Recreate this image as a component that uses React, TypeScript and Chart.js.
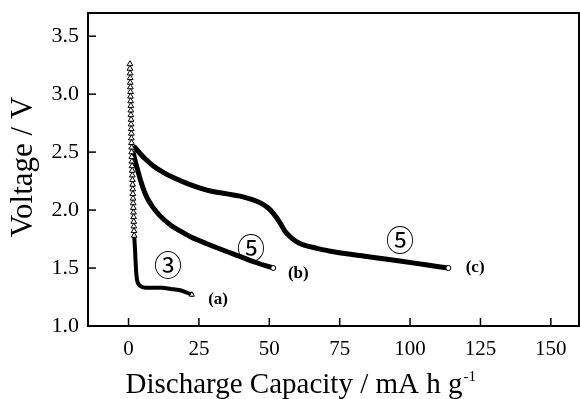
import { useEffect, useRef } from "react";
import { Chart, registerables } from "chart.js";

Chart.register(...registerables);

// ---- data ----
const xTicks = [0, 25, 50, 75, 100, 125, 150];
const yTicks = [1.0, 1.5, 2.0, 2.5, 3.0, 3.5];

// (a) curve ③ : open-triangle markers on the steep part
const aColumn: [number, number][] = [
  [0.5, 3.26], [0.5, 3.22], [0.55, 3.18], [0.6, 3.14], [0.6, 3.1], [0.65, 3.06],
  [0.7, 3.02], [0.7, 2.98], [0.75, 2.94], [0.8, 2.9], [0.8, 2.86], [0.85, 2.82],
  [0.9, 2.78], [0.9, 2.74], [0.95, 2.7], [1.0, 2.66], [1.0, 2.62], [1.05, 2.58],
  [1.1, 2.54], [1.1, 2.5], [1.15, 2.46], [1.2, 2.42], [1.25, 2.38], [1.3, 2.34],
  [1.35, 2.3], [1.4, 2.26], [1.45, 2.22], [1.5, 2.18], [1.55, 2.14], [1.6, 2.1],
  [1.65, 2.06], [1.7, 2.02], [1.75, 1.98], [1.8, 1.94], [1.85, 1.9], [1.9, 1.86],
  [1.95, 1.82], [2.0, 1.78],
];
// (a) dense part (appears as a thick line)
const aLine: [number, number][] = [
  [2.0, 1.78], [2.3, 1.66], [2.5, 1.56], [2.7, 1.47], [3.0, 1.4], [3.6, 1.36],
  [4.5, 1.34], [6, 1.33], [9, 1.33], [12, 1.33], [15, 1.32], [18, 1.31],
  [20.5, 1.29], [22.5, 1.27],
];
// (b) curve ⑤
const bLine: [number, number][] = [
  [1.7, 2.49], [2.5, 2.41], [3.3, 2.34], [4.1, 2.27], [5.3, 2.18], [6.5, 2.11],
  [8.5, 2.03], [11.2, 1.95], [15, 1.87], [18.3, 1.82], [22, 1.77], [27.8, 1.71],
  [33, 1.66], [39.6, 1.6], [45, 1.55], [51.4, 1.5],
];
// (c) curve ⑤
const cLine: [number, number][] = [
  [2.3, 2.54], [4, 2.49], [6, 2.44], [8.8, 2.38], [12, 2.33], [15.9, 2.28],
  [20.7, 2.23], [25.4, 2.19], [30, 2.16], [35, 2.14], [39.6, 2.12], [44, 2.09],
  [47, 2.06], [49.5, 2.02], [51.5, 1.97], [53.8, 1.89], [55.5, 1.82], [57.4, 1.77],
  [59.5, 1.73], [62.1, 1.7], [67, 1.67], [72.8, 1.64], [84.6, 1.6], [96.4, 1.56],
  [105, 1.53], [113.6, 1.5],
];

const circledLabels: { text: string; x: number; y: number }[] = [
  { text: "③", x: 14, y: 1.525 },
  { text: "⑤", x: 43.5, y: 1.67 },
  { text: "⑤", x: 96.4, y: 1.74 },
];
const letterLabels: { text: string; x: number; y: number }[] = [
  { text: "(a)", x: 31.8, y: 1.23 },
  { text: "(b)", x: 60.3, y: 1.45 },
  { text: "(c)", x: 123.1, y: 1.505 },
];

const xTitle = "Discharge Capacity / mA h g";
const xTitleSup = "-1";
const yTitle = "Voltage / V";

const toPts = (arr: [number, number][]) => arr.map(([x, y]) => ({ x, y }));
const last = (arr: [number, number][]) => toPts([arr[arr.length - 1]]);

const SERIF = "'Liberation Serif', 'Times New Roman', serif";

const decor = {
  id: "decor",
  afterDatasetsDraw(chart: any) {
    const { ctx, chartArea: ca, scales } = chart;
    const x = scales.x;
    const y = scales.y;
    ctx.save();
    // frame
    ctx.strokeStyle = "#000";
    ctx.lineWidth = 2;
    ctx.strokeRect(ca.left, ca.top, ca.right - ca.left, ca.bottom - ca.top);
    // inward ticks
    ctx.lineWidth = 1.5;
    x.ticks.forEach((t: any) => {
      const px = x.getPixelForValue(t.value);
      ctx.beginPath();
      ctx.moveTo(px, ca.bottom);
      ctx.lineTo(px, ca.bottom - 8);
      ctx.stroke();
    });
    y.ticks.forEach((t: any) => {
      const py = y.getPixelForValue(t.value);
      ctx.beginPath();
      ctx.moveTo(ca.left, py);
      ctx.lineTo(ca.left + 8, py);
      ctx.stroke();
    });
    // annotations
    ctx.fillStyle = "#000";
    ctx.textAlign = "center";
    ctx.textBaseline = "middle";
    ctx.font = "28px 'Noto Sans CJK JP', sans-serif";
    circledLabels.forEach((l) => {
      ctx.fillText(l.text, x.getPixelForValue(l.x), y.getPixelForValue(l.y));
    });
    ctx.font = "bold 17px " + SERIF;
    letterLabels.forEach((l) => {
      ctx.fillText(l.text, x.getPixelForValue(l.x), y.getPixelForValue(l.y));
    });
    ctx.restore();
  },
  afterDraw(chart: any) {
    const { ctx } = chart;
    ctx.save();
    ctx.fillStyle = "#000";
    // x title
    ctx.font = "29px " + SERIF;
    ctx.textBaseline = "alphabetic";
    ctx.textAlign = "center";
    const w = ctx.measureText(xTitle).width;
    const cx = 294;
    ctx.fillText(xTitle, cx, 393);
    ctx.textAlign = "left";
    ctx.font = "15px " + SERIF;
    ctx.fillText(xTitleSup, cx + w / 2 + 1, 381);
    // y title
    ctx.translate(24, 167);
    ctx.rotate(-Math.PI / 2);
    ctx.font = "31px " + SERIF;
    ctx.textAlign = "center";
    ctx.textBaseline = "middle";
    ctx.fillText(yTitle, 0, 0);
    ctx.restore();
  },
};

export default function App() {
  const ref = useRef<HTMLCanvasElement | null>(null);
  useEffect(() => {
    if (!ref.current) return;
    const lineDs = (data: [number, number][], width: number) => ({
      type: "line" as const,
      data: toPts(data),
      borderColor: "#000",
      borderWidth: width,
      pointRadius: 0,
      showLine: true,
      cubicInterpolationMode: "monotone" as const,
      borderCapStyle: "round" as const,
      borderJoinStyle: "round" as const,
    });
    const marker = (data: any[], style: string, r: number) => ({
      type: "scatter" as const,
      data,
      pointStyle: style,
      pointRadius: r,
      pointBackgroundColor: "#fff",
      pointBorderColor: "#000",
      pointBorderWidth: 1,
      showLine: false,
    });
    const chart = new Chart(ref.current, {
      type: "scatter",
      data: {
        datasets: [
          marker(toPts(aColumn), "triangle", 3.3),
          marker(last(aLine), "triangle", 3),
          marker(last(bLine), "circle", 2.5),
          marker(last(cLine), "circle", 2.5),
          lineDs(aLine, 4),
          lineDs(bLine, 5),
          lineDs(cLine, 5),
        ] as any,
      },
      options: {
        animation: false,
        responsive: false,
        devicePixelRatio: 1,
        layout: { autoPadding: false, padding: { top: 13, right: 1, left: 0, bottom: 0 } },
        plugins: { legend: { display: false }, tooltip: { enabled: false } },
        scales: {
          x: {
            type: "linear",
            min: -14.4,
            max: 160,
            grid: { display: false, drawTicks: false },
            border: { display: false },
            afterBuildTicks: (s: any) => {
              s.ticks = xTicks.map((v) => ({ value: v }));
            },
            afterFit: (s: any) => {
              s.height = 73;
              s.paddingLeft = 0;
              s.paddingRight = 0;
            },
            ticks: {
              color: "#000",
              padding: 11,
              maxRotation: 0,
              font: { family: SERIF, size: 21 },
              callback: (v: any) => String(v),
            },
          },
          y: {
            type: "linear",
            min: 1.0,
            max: 3.7,
            grid: { display: false, drawTicks: false },
            border: { display: false },
            afterBuildTicks: (s: any) => {
              s.ticks = yTicks.map((v) => ({ value: v }));
            },
            afterFit: (s: any) => {
              s.width = 88;
              s.paddingTop = 0;
              s.paddingBottom = 0;
            },
            ticks: {
              color: "#000",
              padding: 9,
              font: { family: SERIF, size: 22 },
              callback: (v: any) => Number(v).toFixed(1),
            },
          },
        },
      },
      plugins: [decor],
    });
    return () => chart.destroy();
  }, []);
  return (
    <div style={{ position: "fixed", left: 0, top: 0, width: 580, height: 399, background: "#fff" }}>
      <canvas ref={ref} width={580} height={399} />
    </div>
  );
}
